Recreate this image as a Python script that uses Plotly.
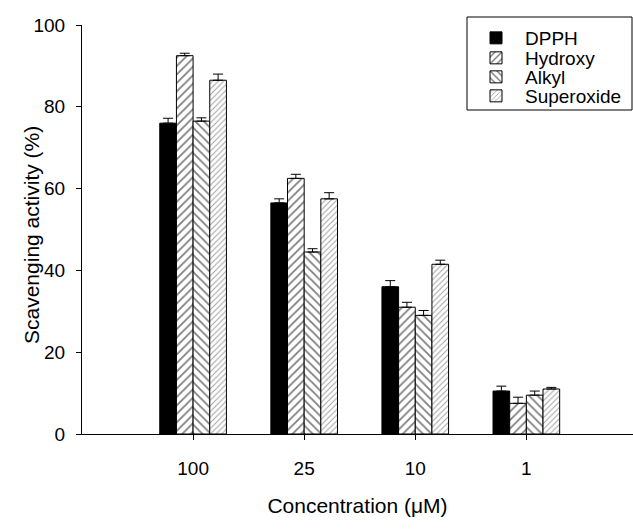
import plotly.graph_objects as go

categories = ["100", "25", "10", "1"]
series = ["DPPH", "Hydroxy", "Alkyl", "Superoxide"]
dpph = [76, 56.5, 36, 10.5]
hydroxy = [92.5, 62.5, 31, 7.5]
alkyl = [76.5, 44.5, 29, 9.5]
superoxide = [86.5, 57.5, 41.5, 11]
dpph_err = [1.2, 1.0, 1.5, 1.2]
hydroxy_err = [0.6, 1.0, 1.2, 1.5]
alkyl_err = [0.8, 0.8, 1.2, 1.0]
superoxide_err = [1.5, 1.5, 1.0, 0.4]

values = [dpph, hydroxy, alkyl, superoxide]
errors = [dpph_err, hydroxy_err, alkyl_err, superoxide_err]
patterns = [
    dict(shape=""),
    dict(shape="/", size=6, solidity=0.3, fgcolor="black", bgcolor="white", fillmode="overlay"),
    dict(shape="\\", size=6, solidity=0.3, fgcolor="black", bgcolor="white", fillmode="overlay"),
    dict(shape="/", size=4, solidity=0.25, fgcolor="#444444", bgcolor="white", fillmode="overlay"),
]
colors = ["black", "white", "white", "white"]
legend_ids = ["legend", "legend2", "legend3", "legend4"]

# layout geometry (pixels)
W, H = 633, 530
L, R, T, B = 82, 0, 25, 96
pw, ph = W - L - R, H - T - B

def px_x(p):
    return (p - L) / pw

def px_y(p):
    return (H - B - p) / ph

fig = go.Figure()
for name, v, e, p, c, lg in zip(series, values, errors, patterns, colors, legend_ids):
    fig.add_trace(go.Bar(
        name=name, x=categories, y=v, legend=lg,
        marker=dict(color=c, pattern=p, line=dict(color="black", width=1)),
        error_y=dict(type="data", array=e, arrayminus=[0]*len(e), symmetric=False,
                     color="black", thickness=1, width=5),
    ))

row_centers = [38, 58, 77, 96]
legend_common = dict(x=px_x(467), xanchor="left", yanchor="middle",
                     borderwidth=0, bgcolor="rgba(0,0,0,0)",
                     font=dict(size=19), itemwidth=48)

fig.update_layout(
    width=W, height=H,
    barmode="group", bargap=0.4, bargroupgap=0,
    plot_bgcolor="white", paper_bgcolor="white",
    margin=dict(l=L, r=R, t=T, b=B),
    font=dict(family="Liberation Sans, Arial, sans-serif", size=19, color="black"),
    showlegend=True,
    legend=dict(y=px_y(row_centers[0]), **legend_common),
    legend2=dict(y=px_y(row_centers[1]), **legend_common),
    legend3=dict(y=px_y(row_centers[2]), **legend_common),
    legend4=dict(y=px_y(row_centers[3]), **legend_common),
    shapes=[dict(type="rect", xref="paper", yref="paper",
                 x0=px_x(467), x1=px_x(632), y0=px_y(110), y1=px_y(17),
                 line=dict(color="black", width=1), fillcolor="rgba(0,0,0,0)")],
    annotations=[dict(text="Scavenging activity (%)", xref="paper", yref="paper",
                      x=px_x(31), y=px_y(235), xanchor="center", yanchor="middle",
                      textangle=-90, showarrow=False, font=dict(size=21))],
    xaxis=dict(range=[-1, 3.96], showline=True, linecolor="black", linewidth=1,
               ticks="outside", ticklen=5, tickcolor="black", showgrid=False,
               ticklabelstandoff=12, tickfont=dict(size=19),
               title=dict(text="Concentration (μM)", font=dict(size=21), standoff=20)),
    yaxis=dict(range=[0, 100], showline=True, linecolor="black", linewidth=1,
               ticks="outside", ticklen=5, tickcolor="black", showgrid=False,
               tickvals=[0, 20, 40, 60, 80, 100], zeroline=False,
               ticklabelstandoff=7, tickfont=dict(size=19)),
)

fig.write_html("out.html")
